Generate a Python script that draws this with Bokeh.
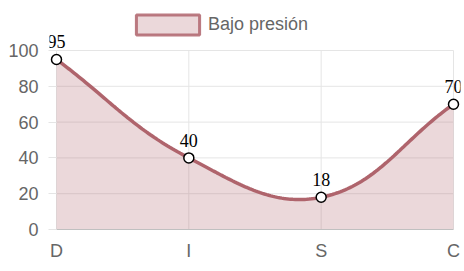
import numpy as np
from bokeh.plotting import figure
from bokeh.models import (Range1d, FixedTicker, ColumnDataSource, LabelSet, Legend, LegendItem)
from bokeh.core.properties import value
from bokeh.embed import file_html
from bokeh.resources import INLINE

# ---- data ----
categories = ["D", "I", "S", "C"]
values = [95, 40, 18, 70]
y_ticks = [0, 20, 40, 60, 80, 100]
series_name = "Bajo presión"

LINE = "#af646c"
FILL = "#af646c"
GRID = "#e5e5e5"
FONT_SIZE = "18px"

# ---- smooth curve (Chart.js style spline, tension 0.4, computed in pixel space) ----
PX_X = 397 / 3.0
PX_Y = 179 / 100.0
TENSION = 0.4
xs_idx = list(range(len(categories)))
P = [np.array([i * PX_X, v * PX_Y]) for i, v in zip(xs_idx, values)]
n = len(P)
cp_prev, cp_next = [], []
for i in range(n):
    p0 = P[i - 1] if i > 0 else P[i]
    p1 = P[i]
    p2 = P[i + 1] if i < n - 1 else P[i]
    d01 = np.linalg.norm(p1 - p0)
    d12 = np.linalg.norm(p2 - p1)
    s01 = d01 / (d01 + d12) if (d01 + d12) else 0
    s12 = d12 / (d01 + d12) if (d01 + d12) else 0
    fa = TENSION * s01
    fb = TENSION * s12
    cp_prev.append(p1 - fa * (p2 - p0))
    cp_next.append(p1 + fb * (p2 - p0))
cx, cy = [], []
ts = np.linspace(0, 1, 60)
for i in range(n - 1):
    a, b, c, d = P[i], cp_next[i], cp_prev[i + 1], P[i + 1]
    for t in (ts if i == 0 else ts[1:]):
        pt = (1 - t) ** 3 * a + 3 * (1 - t) ** 2 * t * b + 3 * (1 - t) * t ** 2 * c + t ** 3 * d
        cx.append(pt[0] / PX_X)
        cy.append(pt[1] / PX_Y)

y_max = max(y_ticks)
x_max = len(categories) - 1
pad = 7 / PX_X
top_extra = 50 / PX_Y
p = figure(width=464, height=271, x_range=Range1d(-pad, x_max + pad),
           y_range=Range1d(0, y_max + top_extra),
           output_backend="svg", toolbar_location=None,
           min_border_left=49, min_border_right=4, min_border_top=0, min_border_bottom=42)
p.outline_line_color = None
p.background_fill_color = "white"
p.border_fill_color = "white"

# grids (drawn within the data area only)
p.xgrid.visible = False
p.ygrid.visible = False
p.segment(x0=[0] * len(y_ticks), x1=[x_max] * len(y_ticks), y0=y_ticks, y1=y_ticks,
          line_color=GRID, line_width=1, level="underlay")
p.segment(x0=xs_idx, x1=xs_idx, y0=[0] * len(xs_idx), y1=[y_max] * len(xs_idx),
          line_color=GRID, line_width=1, level="underlay")

# axes
p.xaxis.ticker = FixedTicker(ticks=xs_idx)
p.xaxis.major_label_overrides = {i: c for i, c in zip(xs_idx, categories)}
p.xaxis.bounds = (0, x_max)
p.xaxis.axis_line_color = "#c0c0c0"
p.xaxis.major_tick_line_color = None
p.xaxis.minor_tick_line_color = None
p.xaxis.major_label_standoff = 5
p.xaxis.major_label_text_font = "Liberation Sans"
p.xaxis.major_label_text_font_size = FONT_SIZE
p.xaxis.major_label_text_color = "#666666"

p.yaxis.ticker = FixedTicker(ticks=y_ticks)
p.yaxis.bounds = (0, y_max)
p.yaxis.axis_line_color = None
p.yaxis.major_tick_line_color = GRID
p.yaxis.major_tick_in = 7
p.yaxis.major_tick_out = 1
p.yaxis.minor_tick_line_color = None
p.yaxis.major_label_standoff = 10
p.yaxis.major_label_text_font = "Liberation Sans"
p.yaxis.major_label_text_font_size = FONT_SIZE
p.yaxis.major_label_text_color = "#666666"

# area + line + points
p.varea(x=cx, y1=0, y2=cy, fill_color=FILL, fill_alpha=0.25)
p.line(cx, cy, line_color=LINE, line_width=3.5)
src = ColumnDataSource(dict(x=xs_idx, y=values, label=[str(v) for v in values]))
p.scatter("x", "y", source=src, size=10, fill_color="white", line_color="black", line_width=1.5)

labels = LabelSet(x="x", y="y", text="label", source=src, y_offset=11,
                  text_align="center", text_baseline="alphabetic",
                  text_font=value("Liberation Serif"), text_font_size=FONT_SIZE, text_color="black")
p.add_layout(labels)

# legend (proxy renderer, hidden, used only for the legend swatch)
proxy = p.quad(left="x", right="x", top="y", bottom="y", source=src,
               fill_color=FILL, fill_alpha=0.25, line_color=LINE, line_alpha=0.85, line_width=3)
proxy.visible = False
legend = Legend(items=[LegendItem(label=series_name, renderers=[proxy])],
                location=(79, 192), orientation="horizontal",
                border_line_color=None, background_fill_alpha=0, padding=0, margin=0,
                inactive_fill_alpha=0,
                glyph_width=79, glyph_height=25, label_standoff=1, label_height=20,
                label_text_font="Liberation Sans", label_text_font_size=FONT_SIZE,
                label_text_color="#666666")
p.add_layout(legend)

open("out.html", "w").write(file_html(p, INLINE))
